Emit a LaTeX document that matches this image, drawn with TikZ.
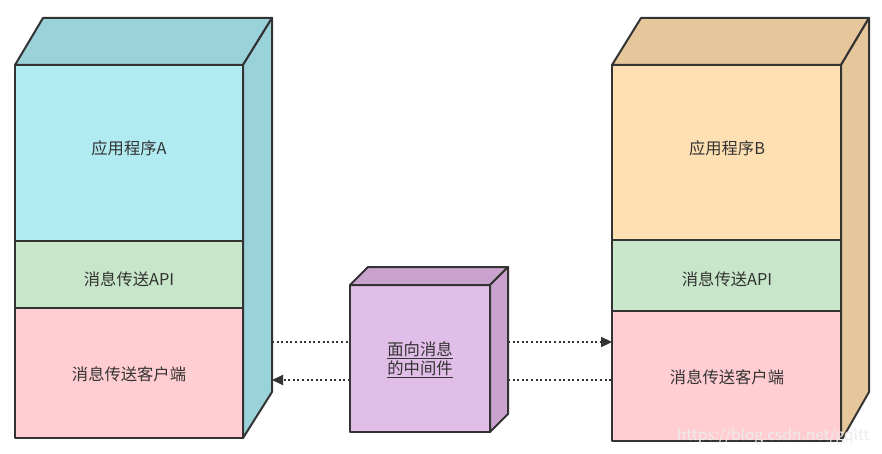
\documentclass[tikz,border=0pt]{standalone}
\usepackage{fontspec}
\setmainfont{Noto Sans CJK SC}
\usetikzlibrary{arrows.meta}
\definecolor{edge}{HTML}{333333}
\definecolor{txt}{HTML}{333333}
\definecolor{cyanF}{HTML}{B1EBF2}
\definecolor{cyanS}{HTML}{9AD2DA}
\definecolor{greenF}{HTML}{C8E6C9}
\definecolor{pinkF}{HTML}{FFCDD2}
\definecolor{peachF}{HTML}{FFE0B2}
\definecolor{peachS}{HTML}{E5C79B}
\definecolor{purpF}{HTML}{E1BEE7}
\definecolor{purpS}{HTML}{C9A3CE}
\definecolor{wmark}{HTML}{ECECEC}
\tikzset{
  sec/.style={draw=edge, line width=2pt, anchor=north west, inner sep=0pt, outer sep=0pt, line join=round},
  lbl/.style={text=txt, inner sep=0pt, font=\fontsize{16.3}{19}\selectfont},
  face/.style={draw=edge, line width=2pt, line join=round},
  link/.style={draw=edge, line width=2.2pt, dash pattern=on 2pt off 2.6pt},
  head/.style={-{Triangle[length=11pt,width=10pt]}},
}
\begin{document}
\begin{tikzpicture}[x=1pt,y=-1pt]
\useasboundingbox (0,0) rectangle (882,454);
% left stack
\node[sec, fill=cyanF, minimum width=228pt, minimum height=176pt] (a1) at (15,65) {};
\node[sec, fill=greenF, minimum width=228pt, minimum height=67pt] (a2) at (15,241) {};
\node[sec, fill=pinkF, minimum width=228pt, minimum height=130pt] (a3) at (15,308) {};
\node[lbl] (ta1) at (129,148) {应用程序A};
\node[lbl] (ta2) at (129,279) {消息传送API};
\node[lbl] (ta3) at (129,374) {消息传送客户端};
\coordinate (atl) at (43,18);
\coordinate (atr) at (272,18);
\coordinate (abr) at (272,392);
\filldraw[face, fill=cyanS] (a1.north west) -- (atl) -- (atr) -- (a1.north east) -- cycle;
\filldraw[face, fill=cyanS] (a1.north east) -- (atr) -- (abr) -- (a3.south east) -- cycle;
% right stack
\node[sec, fill=peachF, minimum width=229pt, minimum height=175pt] (b1) at (612,65) {};
\node[sec, fill=greenF, minimum width=229pt, minimum height=71pt] (b2) at (612,240) {};
\node[sec, fill=pinkF, minimum width=229pt, minimum height=130pt] (b3) at (612,311) {};
\node[lbl] (tb1) at (727,148) {应用程序B};
\node[lbl] (tb2) at (727,279) {消息传送API};
\node[lbl] (tb3) at (727,377) {消息传送客户端};
\coordinate (btl) at (641,18);
\coordinate (btr) at (869,18);
\coordinate (bbr) at (869,392);
\filldraw[face, fill=peachS] (b1.north west) -- (btl) -- (btr) -- (b1.north east) -- cycle;
\filldraw[face, fill=peachS] (b1.north east) -- (btr) -- (bbr) -- (b3.south east) -- cycle;
% middle cube
\node[sec, fill=purpF, minimum width=140pt, minimum height=147pt] (m) at (350,285) {};
\node[lbl] (tm1) at (420,350) {\underline{面向消息}};
\node[lbl] (tm2) at (420,369) {\underline{的中间件}};
\coordinate (mtl) at (368,267);
\coordinate (mtr) at (508,267);
\coordinate (mbr) at (508,414);
\filldraw[face, fill=purpS] (m.north west) -- (mtl) -- (mtr) -- (m.north east) -- cycle;
\filldraw[face, fill=purpS] (m.north east) -- (mtr) -- (mbr) -- (m.south east) -- cycle;
% connectors
\coordinate (l1) at (272,342);
\coordinate (l2) at (272,380);
\coordinate (m1) at (350,342);
\coordinate (m2) at (350,380);
\coordinate (n1) at (508,342);
\coordinate (n2) at (508,380);
\coordinate (r1) at (612,342);
\coordinate (r2) at (612,380);
\draw[link] (l1) -- (m1);
\draw[link, head] (n1) -- (r1);
\draw[link, head] (m2) -- (l2);
\draw[link] (n2) -- (r2);
% watermark
\node[anchor=east, text=wmark, font=\fontsize{15.5}{18}\selectfont] (wm) at (873,436) {https://blog.csdn.net/gqltt};
\end{tikzpicture}
\end{document}
